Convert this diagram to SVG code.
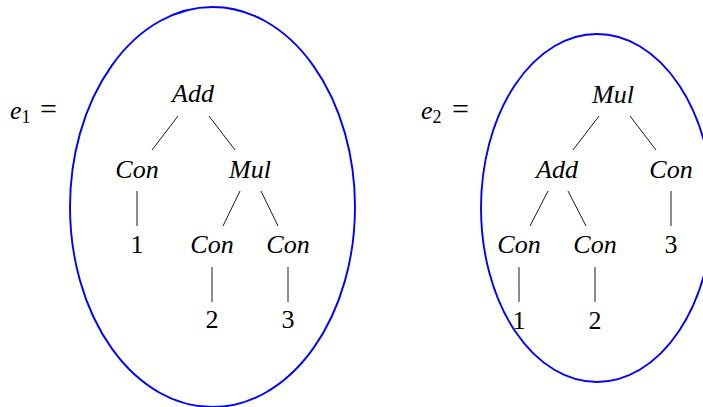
<svg xmlns="http://www.w3.org/2000/svg" width="703" height="407" viewBox="0 0 703 407">
<style>
.t{font-family:"Liberation Serif",serif;font-style:italic;font-size:26px;fill:#000;text-anchor:middle}
.n{font-family:"Liberation Serif",serif;font-size:26px;fill:#000;text-anchor:middle}
.eq{font-family:"Liberation Serif",serif;font-size:26px;fill:#000}
.el{fill:none;stroke:#0000ff;stroke-width:1.9}
.c line{stroke:#000;stroke-width:0.9}
</style>
<rect width="703" height="407" fill="#fff"/>
<g id="label-e1"><text class="eq" x="10" y="119"><tspan font-style="italic">e</tspan><tspan font-size="18" dy="4">1</tspan><tspan dy="-4" x="40" font-size="30">=</tspan></text></g>
<g id="label-e2"><text class="eq" x="421" y="119"><tspan font-style="italic">e</tspan><tspan font-size="18" dy="4">2</tspan><tspan dy="-4" x="452" font-size="30">=</tspan></text></g>
<g id="ellipse-1"><ellipse class="el" cx="212.5" cy="207" rx="142.5" ry="200"/></g>
<g id="ellipse-2"><ellipse class="el" cx="597" cy="208" rx="116" ry="174"/></g>
<g class="c" id="connectors">
<line x1="178" y1="116" x2="152" y2="150"/>
<line x1="209" y1="116" x2="235" y2="150"/>
<line x1="137" y1="191" x2="137" y2="226"/>
<line x1="240" y1="191" x2="223" y2="226"/>
<line x1="261" y1="191" x2="278" y2="226"/>
<line x1="212" y1="267" x2="212" y2="302"/>
<line x1="288" y1="267" x2="288" y2="302"/>
<line x1="599" y1="116" x2="573" y2="150"/>
<line x1="630" y1="116" x2="656" y2="150"/>
<line x1="548" y1="191" x2="530" y2="226"/>
<line x1="568" y1="191" x2="586" y2="226"/>
<line x1="671" y1="191" x2="671" y2="226"/>
<line x1="519" y1="267" x2="519" y2="302"/>
<line x1="595" y1="267" x2="595" y2="302"/>
</g>
<g id="t1-add"><text class="t" x="193" y="102">Add</text></g>
<g id="t1-con1"><text class="t" x="137" y="178">Con</text></g>
<g id="t1-mul"><text class="t" x="250" y="178">Mul</text></g>
<g id="t1-one"><text class="n" x="137" y="253">1</text></g>
<g id="t1-con2"><text class="t" x="212" y="253">Con</text></g>
<g id="t1-con3"><text class="t" x="288" y="253">Con</text></g>
<g id="t1-two"><text class="n" x="212" y="328">2</text></g>
<g id="t1-three"><text class="n" x="288" y="328">3</text></g>
<g id="t2-mul"><text class="t" x="613" y="103">Mul</text></g>
<g id="t2-add"><text class="t" x="557" y="178">Add</text></g>
<g id="t2-con3"><text class="t" x="671" y="178">Con</text></g>
<g id="t2-con1"><text class="t" x="519" y="253">Con</text></g>
<g id="t2-con2"><text class="t" x="595" y="253">Con</text></g>
<g id="t2-three"><text class="n" x="671" y="253">3</text></g>
<g id="t2-one"><text class="n" x="519" y="329">1</text></g>
<g id="t2-two"><text class="n" x="595" y="329">2</text></g>
</svg>
